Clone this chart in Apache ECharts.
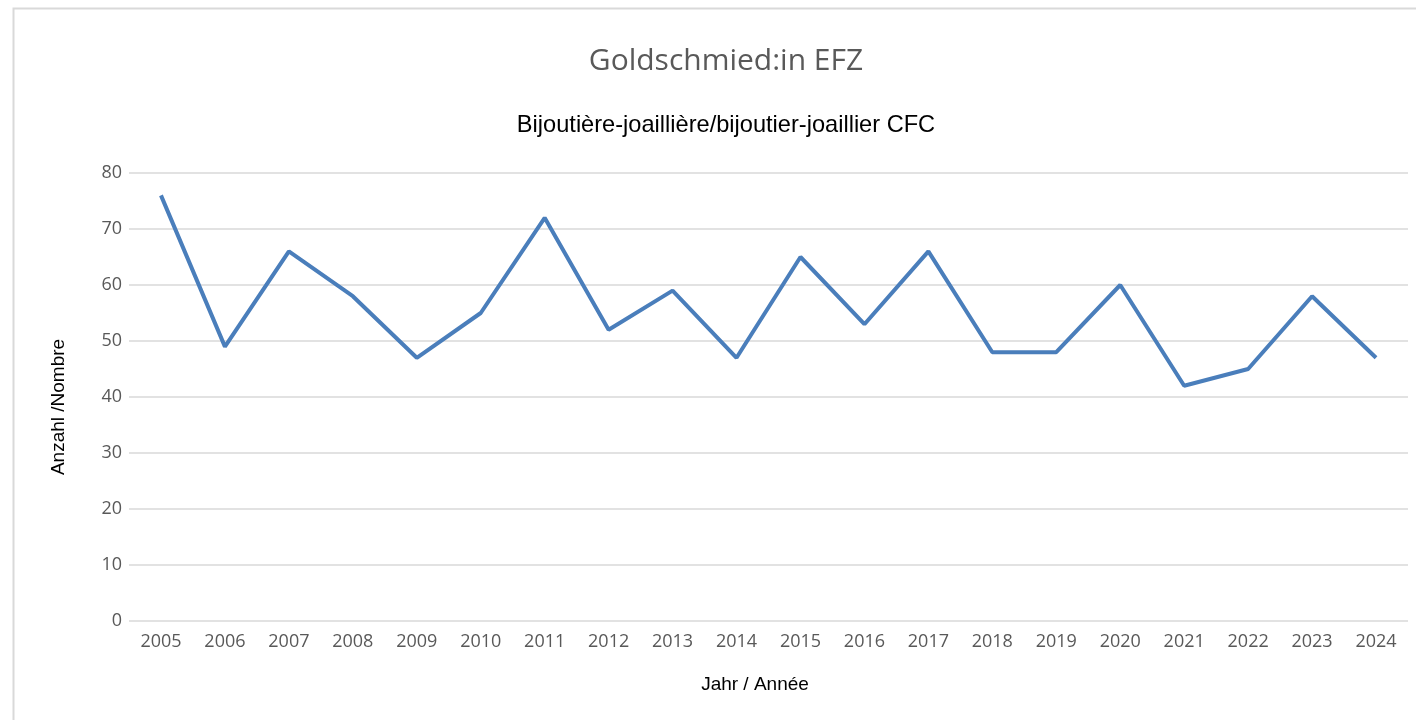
<!DOCTYPE html>
<html><head><meta charset="utf-8">
<script src="https://cdn.jsdelivr.net/npm/echarts@6/dist/echarts.min.js"></script>
<style>html,body{margin:0;padding:0;background:#fff}#c{width:1416px;height:720px}</style>
</head><body><div id="c"></div>
<script>
const years = ['2005','2006','2007','2008','2009','2010','2011','2012','2013','2014','2015','2016','2017','2018','2019','2020','2021','2022','2023','2024'];
const counts = [76,49,66,58,47,55,72,52,59,47,65,53,66,48,48,60,42,45,58,47];
const titleText = 'Goldschmied:in EFZ';
const subtitleText = 'Bijoutière-joaillière/bijoutier-joaillier CFC';
const xName = 'Jahr / Année';
const yName = 'Anzahl /Nombre';

const chart = echarts.init(document.getElementById('c'));
chart.setOption({
  animation:false,
  graphic:[
    {type:'rect',shape:{x:13.5,y:8.5,width:1440,height:740},style:{fill:'none',stroke:'#d9d9d9',lineWidth:2}},
    {type:'text',x:726,y:61,style:{text:titleText,textAlign:'center',textVerticalAlign:'middle',font:'30px "Open Sans"',fill:'#595959'}},
    {type:'text',x:726,y:125,style:{text:subtitleText,textAlign:'center',textVerticalAlign:'middle',font:'23.6px "Liberation Sans"',fill:'#000'}},
    {type:'text',x:755,y:685,style:{text:xName,textAlign:'center',textVerticalAlign:'middle',font:'19px "Liberation Sans"',fill:'#000'}},
    {type:'text',x:59,y:407,rotation:Math.PI/2,style:{text:yName,textAlign:'center',textVerticalAlign:'middle',font:'19px "Liberation Sans"',fill:'#000'}}
  ],
  grid:{left:129,right:8,top:173,bottom:99,containLabel:false},
  xAxis:{type:'category',data:years,boundaryGap:true,
    axisLine:{show:false},axisTick:{show:false},
    axisLabel:{fontFamily:'Open Sans',fontSize:18,color:'#595959',margin:12}},
  yAxis:{type:'value',min:0,max:80,interval:10,
    axisLine:{show:false},axisTick:{show:false},
    axisLabel:{fontFamily:'Open Sans',fontSize:18,color:'#595959',margin:7},
    splitLine:{lineStyle:{color:'#d9d9d9',width:1.5}}},
  series:[{type:'line',data:counts,symbol:'none',lineStyle:{color:'#4a7ebb',width:4},itemStyle:{color:'#4a7ebb'}}]
});
</script></body></html>
